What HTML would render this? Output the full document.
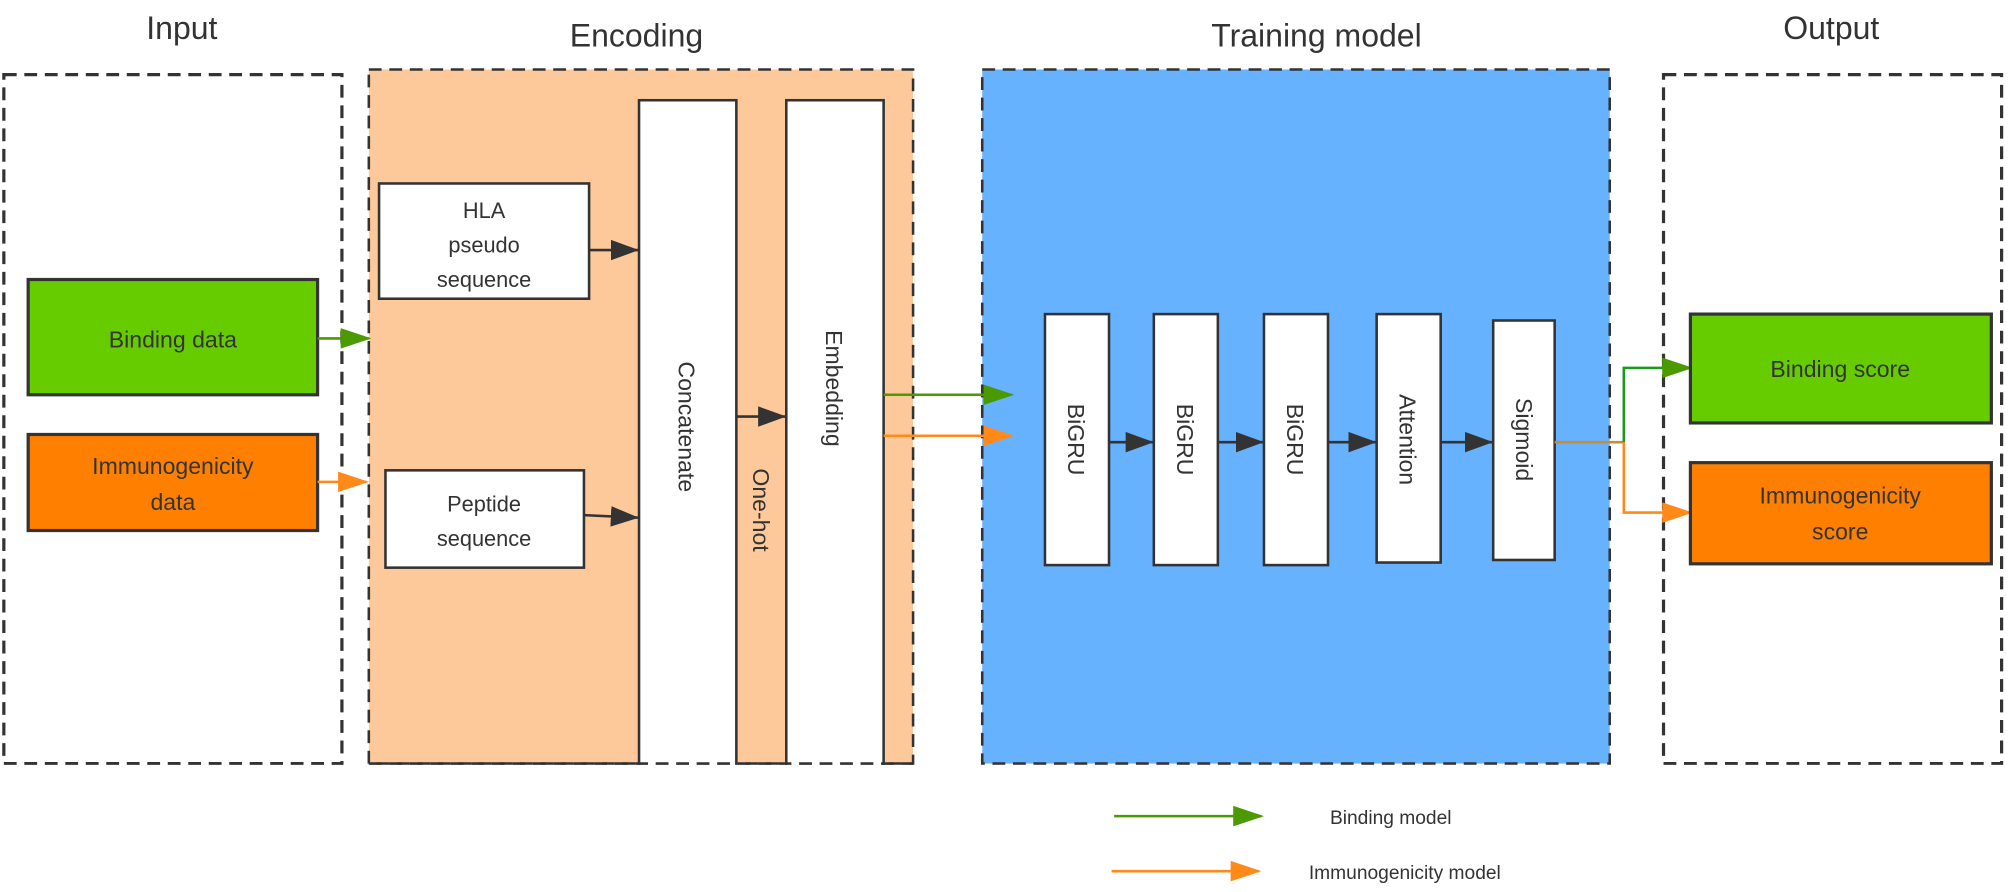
<!DOCTYPE html>
<html><head><style>
html,body{margin:0;padding:0;background:#fff;}
svg{display:block;}
text{font-family:"Liberation Sans",Arial,sans-serif;fill:#333;}
</style></head><body>
<svg width="2008" height="892" viewBox="0 0 1568 696" xmlns="http://www.w3.org/2000/svg">
<defs>
<marker id="ag2" markerWidth="24" markerHeight="24" refX="22" refY="8" orient="auto" markerUnits="userSpaceOnUse"><path d="M0,0 L24,8 L0,16 z" fill="#4a9a00"/></marker>
<marker id="ao2" markerWidth="24" markerHeight="24" refX="22" refY="8" orient="auto" markerUnits="userSpaceOnUse"><path d="M0,0 L24,8 L0,16 z" fill="#ff8a1a"/></marker>
<marker id="ak2" markerWidth="24" markerHeight="24" refX="22" refY="8" orient="auto" markerUnits="userSpaceOnUse"><path d="M0,0 L22,8 L0,16 z" fill="#333"/></marker>
</defs>

<!-- titles -->
<text x="142" y="30" font-size="25" text-anchor="middle">Input</text>
<text x="497" y="36" font-size="25" text-anchor="middle">Encoding</text>
<text x="1028" y="36" font-size="25" text-anchor="middle">Training model</text>
<text x="1430" y="30" font-size="25" text-anchor="middle">Output</text>

<!-- containers -->
<rect x="3" y="58" width="264" height="538" fill="none" stroke="#333" stroke-width="2.5" stroke-dasharray="10,6"/>
<rect x="288" y="54" width="425" height="542" fill="#fdc99a" stroke="#333" stroke-width="2" stroke-dasharray="10,6"/>
<rect x="767" y="54" width="490" height="542" fill="#66b2ff" stroke="#333" stroke-width="2" stroke-dasharray="10,6"/>
<rect x="1299" y="58" width="264" height="538" fill="none" stroke="#333" stroke-width="2.5" stroke-dasharray="10,6"/>

<!-- input boxes -->
<rect x="22" y="218" width="226" height="90" fill="#66cc00" stroke="#333" stroke-width="2.5"/>
<text x="135" y="271" font-size="18" text-anchor="middle">Binding data</text>
<rect x="22" y="339" width="226" height="75" fill="#ff8000" stroke="#333" stroke-width="2.5"/>
<text x="135" y="370" font-size="18" text-anchor="middle">Immunogenicity</text>
<text x="135" y="398" font-size="18" text-anchor="middle">data</text>

<line x1="248" y1="264" x2="288" y2="264" stroke="#4a9a00" stroke-width="2" marker-end="url(#ag2)"/>
<line x1="248" y1="376" x2="286" y2="376" stroke="#ff8a1a" stroke-width="2" marker-end="url(#ao2)"/>

<!-- encoding boxes -->
<rect x="296" y="143" width="164" height="90" fill="#fff" stroke="#333" stroke-width="2"/>
<text x="378" y="170" font-size="17" text-anchor="middle">HLA</text>
<text x="378" y="197" font-size="17" text-anchor="middle">pseudo</text>
<text x="378" y="224" font-size="17" text-anchor="middle">sequence</text>
<rect x="301" y="367" width="155" height="76" fill="#fff" stroke="#333" stroke-width="2"/>
<text x="378" y="399" font-size="17" text-anchor="middle">Peptide</text>
<text x="378" y="426" font-size="17" text-anchor="middle">sequence</text>

<rect x="499" y="78" width="76" height="530" fill="#fff" stroke="#333" stroke-width="2"/>
<rect x="614" y="78" width="76" height="530" fill="#fff" stroke="#333" stroke-width="2"/>
<rect x="0" y="597" width="1568" height="99" fill="#fff"/>

<text transform="translate(530,333) rotate(90)" font-size="18" text-anchor="middle">Concatenate</text>
<text transform="translate(645,303) rotate(90)" font-size="18" text-anchor="middle">Embedding</text>
<text transform="translate(588,398) rotate(90)" font-size="18" text-anchor="middle">One-hot</text>

<line x1="460" y1="195" x2="499" y2="195" stroke="#333" stroke-width="2" marker-end="url(#ak2)"/>
<line x1="456" y1="402" x2="499" y2="404" stroke="#333" stroke-width="2" marker-end="url(#ak2)"/>
<line x1="575" y1="325" x2="614" y2="325" stroke="#333" stroke-width="2" marker-end="url(#ak2)"/>

<line x1="690" y1="308" x2="790" y2="308" stroke="#4a9a00" stroke-width="2" marker-end="url(#ag2)"/>
<line x1="690" y1="340" x2="790" y2="340" stroke="#ff8a1a" stroke-width="2" marker-end="url(#ao2)"/>

<!-- training boxes -->
<rect x="816" y="245" width="50" height="196" fill="#fff" stroke="#333" stroke-width="2"/>
<rect x="901" y="245" width="50" height="196" fill="#fff" stroke="#333" stroke-width="2"/>
<rect x="987" y="245" width="50" height="196" fill="#fff" stroke="#333" stroke-width="2"/>
<rect x="1075" y="245" width="50" height="194" fill="#fff" stroke="#333" stroke-width="2"/>
<rect x="1166" y="250" width="48" height="187" fill="#fff" stroke="#333" stroke-width="2"/>
<text transform="translate(834,343) rotate(90)" font-size="18" text-anchor="middle">BiGRU</text>
<text transform="translate(919,343) rotate(90)" font-size="18" text-anchor="middle">BiGRU</text>
<text transform="translate(1005,343) rotate(90)" font-size="18" text-anchor="middle">BiGRU</text>
<text transform="translate(1093,343) rotate(90)" font-size="18" text-anchor="middle">Attention</text>
<text transform="translate(1184,343) rotate(90)" font-size="18" text-anchor="middle">Sigmoid</text>
<line x1="866" y1="345" x2="901" y2="345" stroke="#333" stroke-width="2" marker-end="url(#ak2)"/>
<line x1="951" y1="345" x2="987" y2="345" stroke="#333" stroke-width="2" marker-end="url(#ak2)"/>
<line x1="1037" y1="345" x2="1075" y2="345" stroke="#333" stroke-width="2" marker-end="url(#ak2)"/>
<line x1="1125" y1="345" x2="1166" y2="345" stroke="#333" stroke-width="2" marker-end="url(#ak2)"/>

<!-- output connectors -->
<line x1="1214" y1="345" x2="1268" y2="345" stroke="#c98a3a" stroke-width="2"/>
<polyline points="1268,345 1268,287 1320,287" fill="none" stroke="#1a9a1a" stroke-width="2" marker-end="url(#ag2)"/>
<polyline points="1268,345 1268,400 1320,400" fill="none" stroke="#ff8a1a" stroke-width="2" marker-end="url(#ao2)"/>

<rect x="1320" y="245" width="235" height="85" fill="#66cc00" stroke="#333" stroke-width="2.5"/>
<text x="1437" y="294" font-size="18" text-anchor="middle">Binding score</text>
<rect x="1320" y="361" width="235" height="79" fill="#ff8000" stroke="#333" stroke-width="2.5"/>
<text x="1437" y="393" font-size="18" text-anchor="middle">Immunogenicity</text>
<text x="1437" y="421" font-size="18" text-anchor="middle">score</text>

<line x1="288" y1="596" x2="713" y2="596" stroke="#333" stroke-width="2" stroke-dasharray="10,6"/>

<!-- legend -->
<line x1="870" y1="637" x2="985" y2="637" stroke="#4a9a00" stroke-width="2" marker-end="url(#ag2)"/>
<text x="1086" y="643" font-size="15" text-anchor="middle">Binding model</text>
<line x1="868" y1="680" x2="983" y2="680" stroke="#ff8a1a" stroke-width="2" marker-end="url(#ao2)"/>
<text x="1097" y="686" font-size="15" text-anchor="middle">Immunogenicity model</text>
</svg>
</body></html>
